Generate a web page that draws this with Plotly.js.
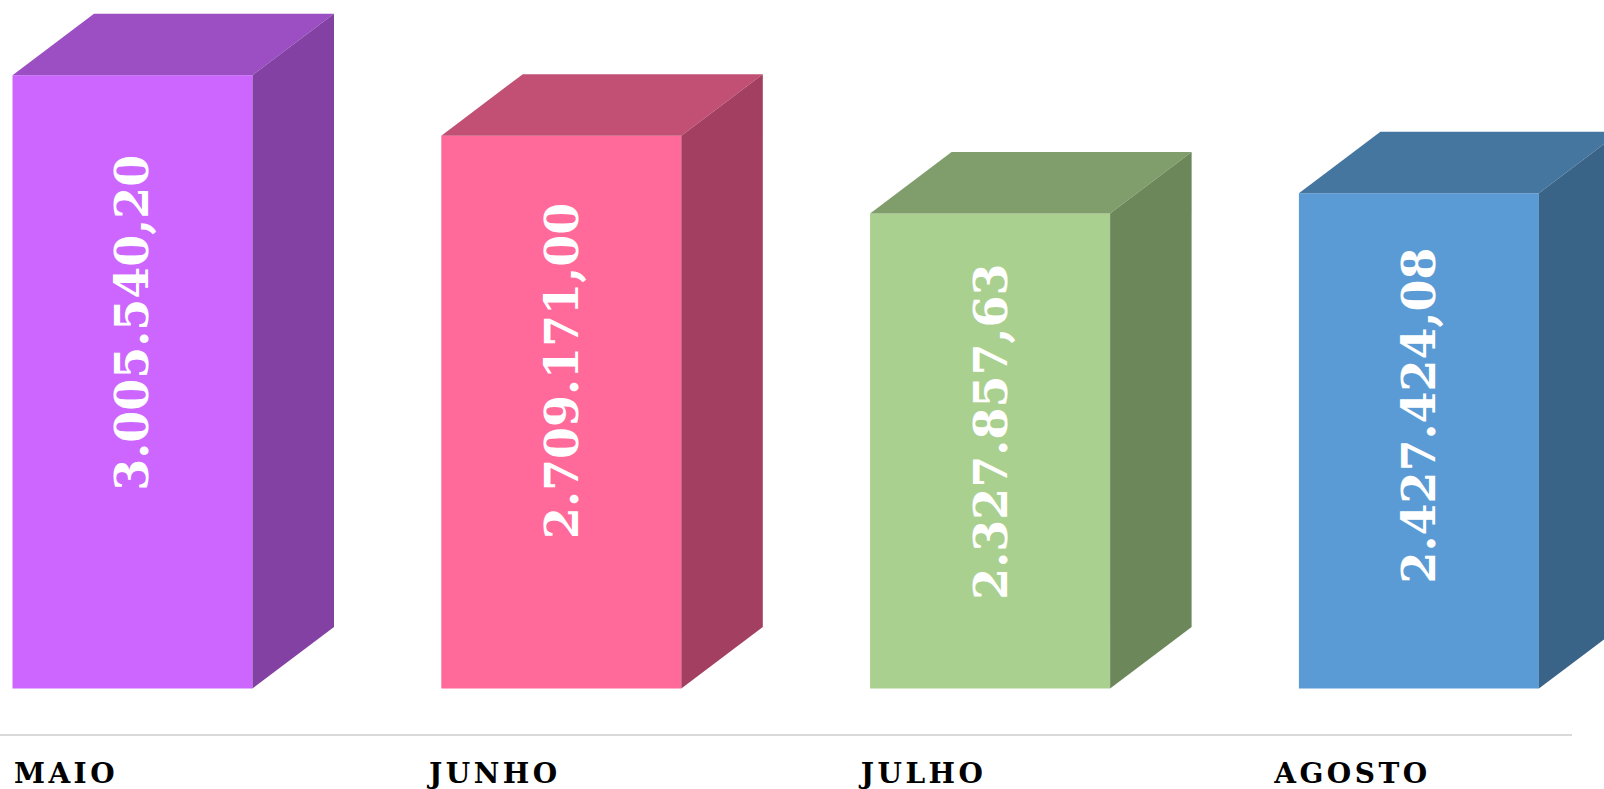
<!DOCTYPE html>
<html>
<head>
<meta charset="utf-8">
<script src="https://cdn.plot.ly/plotly-3.0.1.min.js"></script>
<style>
html, body { margin: 0; padding: 0; background: #ffffff; }
#chart { width: 1604px; height: 789px; }
.x2tick text { letter-spacing: 3.5px; }
</style>
</head>
<body>
<div id="chart"></div>
<script>
// ---- data ----
const months = ['MAIO', 'JUNHO', 'JULHO', 'AGOSTO'];
const totals = [3005540.20, 2709171.00, 2327857.63, 2427424.08];
const frontColors = ['#CC66FF', '#FF6A9A', '#A9D08E', '#5B9BD5'];
const topColors = ['#9B4FC2', '#C25075', '#809E6C', '#4576A0'];
const sideColors = ['#8241A3', '#A33F60', '#6C875A', '#3A6388'];

// ---- geometry (styles) ----
const W = 1604, H = 789;
const plotBottom = 735;              // px where plot area ends
const zeroPx = 688.5;                // px of value 0
const pxPerUnit = 204.05e-6;         // px per currency unit
const firstCenterPx = 132.5, spacingPx = 428.8;
const barWidthPx = 240, depthXPx = 81.5, depthYPx = 61.5;
const labelHeightFactor = 0.783, labelShiftPx = -115;

const yMin = -(plotBottom - zeroPx) / pxPerUnit;
const yMax = zeroPx / pxPerUnit;
const xMin = -firstCenterPx / spacingPx;
const xMax = (W - firstCenterPx) / spacingPx;
const bw = barWidthPx / spacingPx;
const dx = depthXPx / spacingPx;
const dy = depthYPx / pxPerUnit;

function fmtBR(v) {
  const parts = v.toFixed(2).split('.');
  const intPart = parts[0].replace(/\B(?=(\d{3})+(?!\d))/g, '.');
  return intPart + ',' + parts[1];
}

const idx = months.map((m, i) => i);
const traces = [];

// front faces
traces.push({
  type: 'bar',
  x: idx,
  y: totals,
  width: bw,
  marker: { color: frontColors, line: { width: 0 } },
  hoverinfo: 'skip',
  showlegend: false
});

// top and side faces
idx.forEach(i => {
  const v = totals[i];
  const l = i - bw / 2, r = i + bw / 2;
  traces.push({
    type: 'scatter', mode: 'lines', fill: 'toself',
    x: [l, l + dx, r + dx, r, l],
    y: [v, v + dy, v + dy, v, v],
    fillcolor: topColors[i], line: { width: 0 },
    hoverinfo: 'skip', showlegend: false
  });
  traces.push({
    type: 'scatter', mode: 'lines', fill: 'toself',
    x: [r, r + dx, r + dx, r, r],
    y: [0, dy, v + dy, v, 0],
    fillcolor: sideColors[i], line: { width: 0 },
    hoverinfo: 'skip', showlegend: false
  });
});

// carrier for category axis
traces.push({ type: 'scatter', x: [], y: [], xaxis: 'x2', yaxis: 'y', hoverinfo: 'skip', showlegend: false });

const labelFirstPx = 66, labelSpacingPx = 428.8;

const annotations = idx.map(i => ({
  x: i, y: totals[i] * labelHeightFactor, xref: 'x', yref: 'y',
  text: fmtBR(totals[i]),
  textangle: -90,
  showarrow: false,
  xanchor: 'center', yanchor: 'middle',
  yshift: labelShiftPx,
  font: { family: 'DejaVu Serif', size: 46, color: '#ffffff', weight: 'bold' }
}));

const layout = {
  width: W, height: H,
  margin: { l: 0, r: 0, t: 0, b: H - plotBottom, pad: 0 },
  paper_bgcolor: '#ffffff', plot_bgcolor: '#ffffff',
  showlegend: false,
  xaxis: { range: [xMin, xMax], visible: false, fixedrange: true },
  xaxis2: {
    overlaying: 'x', anchor: 'y', side: 'bottom', type: 'linear',
    range: [-labelFirstPx / labelSpacingPx, (W - labelFirstPx) / labelSpacingPx],
    tickmode: 'array', tickvals: idx, ticktext: months,
    showgrid: false, zeroline: false, showline: false, ticks: '',
    ticklabelstandoff: 19,
    tickfont: { family: 'DejaVu Serif', size: 28, color: '#000000', weight: 'bold' }
  },
  yaxis: { range: [yMin, yMax], visible: false, fixedrange: true },
  shapes: [{
    type: 'line', xref: 'paper', yref: 'paper',
    x0: 0, x1: 1572 / W, y0: 0, y1: 0,
    line: { color: '#D9D9D9', width: 2 }
  }],
  annotations: annotations
};

Plotly.newPlot('chart', traces, layout, { displayModeBar: false, staticPlot: true });
</script>
</body>
</html>
